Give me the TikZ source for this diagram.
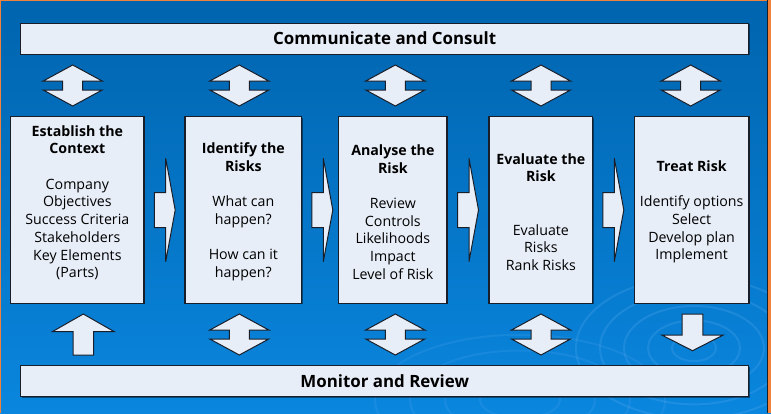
\documentclass[tikz,border=0pt]{standalone}
\usepackage{fontspec}
\setmainfont{Open Sans}
\usetikzlibrary{shadows}
\definecolor{bgtop}{RGB}{0,100,174}
\definecolor{bgbot}{RGB}{10,134,222}
\definecolor{boxfill}{RGB}{232,238,248}
\definecolor{edge}{RGB}{25,30,40}
\definecolor{frameor}{RGB}{240,130,60}
\definecolor{ripple}{RGB}{90,170,240}
\tikzset{
  panel/.style={draw=edge, line width=1.1pt, fill=boxfill, inner sep=0pt,
    drop shadow={shadow xshift=1pt, shadow yshift=-1pt, opacity=0.45, fill=black}},
  bar/.style={panel, minimum width=728pt, minimum height=31pt, text=black,
    font=\fontsize{16.9}{18}\selectfont\bfseries},
  stepbox/.style={panel, minimum height=186.6pt},
  boxtext/.style={align=center, text=black, inner sep=0pt,
    font=\fontsize{14.2}{17.7}\selectfont},
  blockarrow/.style={draw=edge, line width=1pt, fill=boxfill, line join=miter},
  pics/updown/.style={code={
    \path[blockarrow] (0,-20.5) -- (29.5,-4.5) -- (10,-4.5) -- (10,4.5) -- (29.5,4.5)
      -- (0,20.5) -- (-29.5,4.5) -- (-10,4.5) -- (-10,-4.5) -- (-29.5,-4.5) -- cycle;}},
  pics/rightarr/.style={code={
    \path[blockarrow] (0,-51.7) -- (9.5,0) -- (0,51.7) -- (0,17.5) -- (-11.4,17.5)
      -- (-11.4,-17.5) -- (0,-17.5) -- cycle;}},
  pics/uparr/.style={code={
    \path[blockarrow] (0,-20.5) -- (31,-2.8) -- (10.3,-2.8) -- (10.3,20.5)
      -- (-10.3,20.5) -- (-10.3,-2.8) -- (-31,-2.8) -- cycle;}},
  pics/downarr/.style={code={
    \path[blockarrow] (-10.3,-18.35) -- (10.3,-18.35) -- (10.3,2.65) -- (30.8,2.65)
      -- (0,18.35) -- (-30.8,2.65) -- (-10.3,2.65) -- cycle;}},
}
\begin{document}
\begin{tikzpicture}[x=1pt, y=-1pt]
\useasboundingbox (0,0) rectangle (771,413);
\shade[top color=bgtop, bottom color=bgbot] (0,0) rectangle (771,413);
% ripples
\begin{scope}
  \clip (0,0) rectangle (771,413);
  \foreach \r in {22,46,70,94,118} {
    \draw[ripple, opacity=0.25, line width=2pt] (694,348) ellipse [x radius=\r, y radius=0.6*\r];
  }
  \foreach \r in {40,75,110,145} {
    \draw[ripple, opacity=0.18, line width=2pt] (520,400) ellipse [x radius=\r, y radius=0.45*\r];
  }
\end{scope}
% frame
\fill[frameor] (0,0) rectangle (1.2,413);
\fill[frameor] (0,0) rectangle (771,1.2);
\fill[frameor] (767.6,0) rectangle (771,413);
\draw[edge, line width=1pt] (767,0) -- (767,413);

% bars
\node[bar] (cc) at (384.7,38.65) {Communicate and Consult};
\node[bar] (mr) at (384.7,381.2) {Monitor and Review};

% step boxes
\node[stepbox, minimum width=133.3pt] (b1) at (77.35,210) {};
\node[stepbox, minimum width=116.7pt] (b2) at (243.35,210) {};
\node[stepbox, minimum width=108.3pt] (b3) at (392.85,210) {};
\node[stepbox, minimum width=103.7pt] (b4) at (540.85,210) {};
\node[stepbox, minimum width=114.7pt] (b5) at (691.65,210) {};

\node[boxtext] (t1) at ([yshift=7.3pt]b1.center)
  {\textbf{Establish the}\\\textbf{Context}\\[17.7pt]Company\\Objectives\\Success Criteria\\Stakeholders\\Key Elements\\(Parts)};
\node[boxtext] (t2) at ([yshift=-2pt]b2.center)
  {\textbf{Identify the}\\\textbf{Risks}\\[17.7pt]What can\\happen?\\[17.7pt]How can it\\happen?};
\node[boxtext] (t3) at ([yshift=-2pt]b3.center)
  {\textbf{Analyse the}\\\textbf{Risk}\\[17.7pt]Review\\Controls\\Likelihoods\\Impact\\Level of Risk};
\node[boxtext] (t4) at ([yshift=-2pt]b4.center)
  {\textbf{Evaluate the}\\\textbf{Risk}\\[35.4pt]Evaluate\\Risks\\Rank Risks};
\node[boxtext] (t5) at ([yshift=-2pt]b5.center)
  {\textbf{Treat Risk}\\[17.7pt]Identify options\\Select\\Develop plan\\Implement};

% top double arrows
\pic at (72.7,85.5) {updown};
\pic at (239.3,85.5) {updown};
\pic at (395.3,85.5) {updown};
\pic at (541,85.5) {updown};
\pic at (690.7,85.5) {updown};

% right arrows between steps
\pic at (165.7,210) {rightarr};
\pic at (323.3,210) {rightarr};
\pic at (469,210) {rightarr};
\pic at (614.3,210) {rightarr};

% bottom arrows
\pic at (83.3,334.5) {uparr};
\pic at (239.3,334.5) {updown};
\pic at (395.3,334.5) {updown};
\pic at (541,334.5) {updown};
\pic at (692.5,332.35) {downarr};
\end{tikzpicture}
\end{document}
